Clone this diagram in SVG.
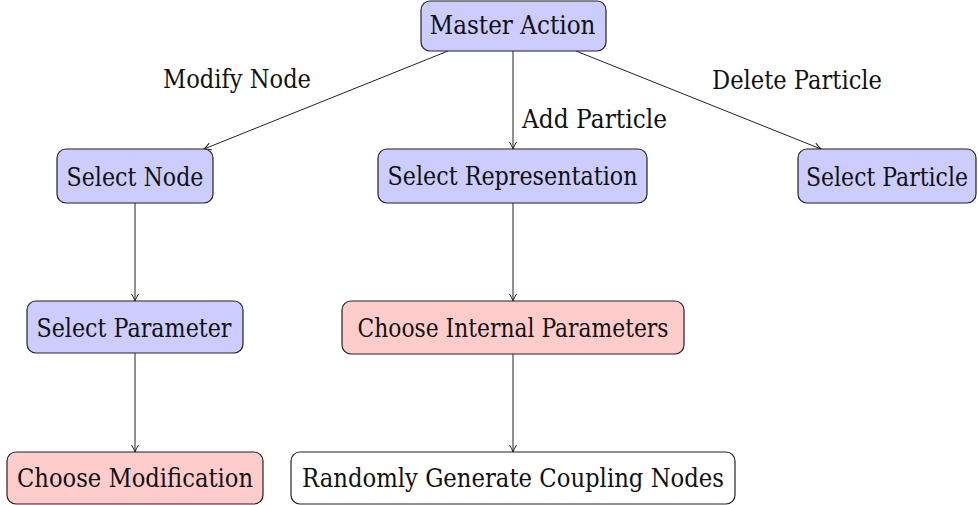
<svg xmlns="http://www.w3.org/2000/svg" width="979" height="505" viewBox="0 0 979 505">
<style>
.box{stroke:#222;stroke-width:1.2}
.blue{fill:#ccccff}
.red{fill:#ffcccc}
.white{fill:#ffffff}
.t{font-family:'DejaVu Serif','Liberation Serif',serif;font-size:26px;fill:#111}
.c{text-anchor:middle}
.edge{stroke:#222;stroke-width:1;fill:none;marker-end:url(#arr)}
</style>
<defs>
<marker id="arr" viewBox="0 0 10 10" refX="9" refY="5" markerWidth="10" markerHeight="10" markerUnits="userSpaceOnUse" orient="auto">
<path d="M2,1.5 Q6,4 9,5 Q6,6 2,8.5" fill="none" stroke="#222" stroke-width="1"/>
</marker>
</defs>
<rect width="979" height="505" fill="#ffffff"/>
<g id="edges">
<line class="edge" x1="448" y1="51" x2="204" y2="149"/>
<line class="edge" x1="513" y1="51" x2="513" y2="149"/>
<line class="edge" x1="576" y1="51" x2="821" y2="149"/>
<line class="edge" x1="135" y1="203" x2="135" y2="301"/>
<line class="edge" x1="513" y1="203" x2="513" y2="301"/>
<line class="edge" x1="135" y1="353" x2="135" y2="452"/>
<line class="edge" x1="513" y1="354" x2="513" y2="452"/>
<text class="t" x="163" y="88" textLength="148" lengthAdjust="spacingAndGlyphs">Modify Node</text>
<text class="t" x="522" y="128" textLength="145" lengthAdjust="spacingAndGlyphs">Add Particle</text>
<text class="t" x="712" y="89" textLength="170" lengthAdjust="spacingAndGlyphs">Delete Particle</text>
</g>
<g id="master">
<rect class="box blue" x="421" y="1" width="185" height="50" rx="9"/>
<text class="t c" x="512.5" y="34" textLength="166" lengthAdjust="spacingAndGlyphs">Master Action</text>
</g>
<g id="selectNode">
<rect class="box blue" x="57" y="149" width="156" height="54" rx="9"/>
<text class="t c" x="135" y="186" textLength="137" lengthAdjust="spacingAndGlyphs">Select Node</text>
</g>
<g id="selectRep">
<rect class="box blue" x="378" y="149" width="269" height="54" rx="9"/>
<text class="t c" x="512.5" y="185" textLength="250" lengthAdjust="spacingAndGlyphs">Select Representation</text>
</g>
<g id="selectParticle">
<rect class="box blue" x="798" y="149" width="178" height="54" rx="9"/>
<text class="t c" x="887" y="186" textLength="162" lengthAdjust="spacingAndGlyphs">Select Particle</text>
</g>
<g id="selectParam">
<rect class="box blue" x="27" y="301" width="216" height="52" rx="9"/>
<text class="t c" x="134" y="337" textLength="195" lengthAdjust="spacingAndGlyphs">Select Parameter</text>
</g>
<g id="chooseInternal">
<rect class="box red" x="342" y="301" width="342" height="53" rx="9"/>
<text class="t c" x="513" y="337" textLength="311" lengthAdjust="spacingAndGlyphs">Choose Internal Parameters</text>
</g>
<g id="chooseMod">
<rect class="box red" x="7" y="452" width="256" height="52" rx="9"/>
<text class="t c" x="135" y="487" textLength="236" lengthAdjust="spacingAndGlyphs">Choose Modification</text>
</g>
<g id="randomGen">
<rect class="box white" x="291" y="452" width="444" height="52" rx="9"/>
<text class="t c" x="513" y="487" textLength="422" lengthAdjust="spacingAndGlyphs">Randomly Generate Coupling Nodes</text>
</g>
</svg>
